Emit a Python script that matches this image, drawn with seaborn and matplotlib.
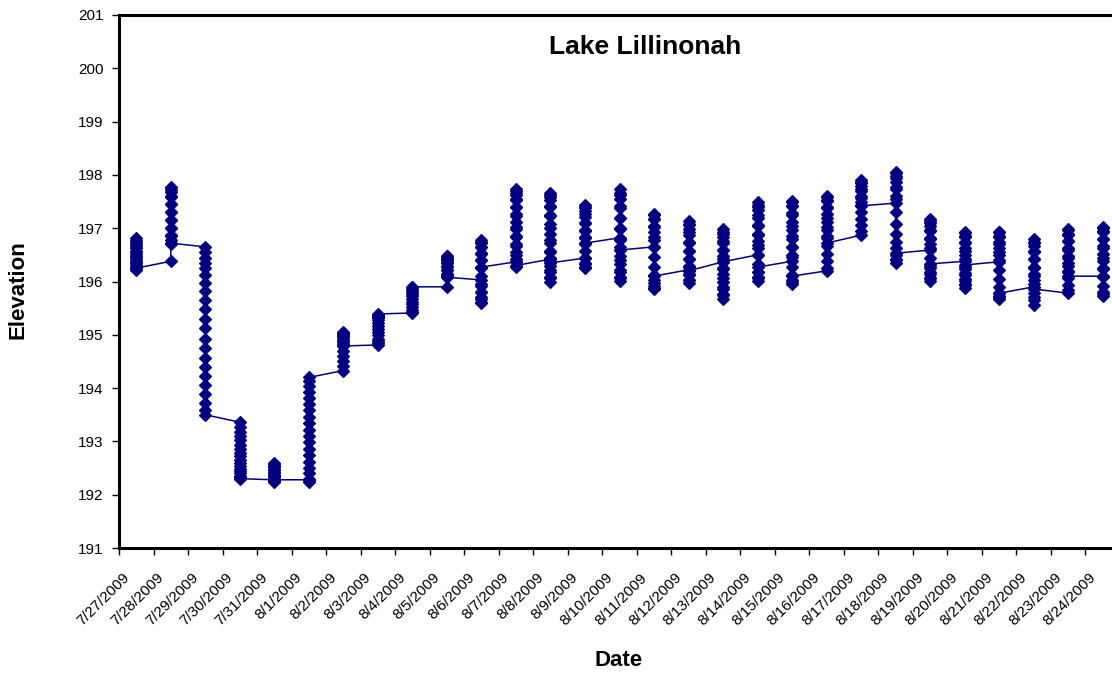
import matplotlib
matplotlib.use("Agg")
import matplotlib.pyplot as plt
import matplotlib.transforms as mtransforms
import seaborn as sns
import numpy as np
import pandas as pd

sns.set_style("ticks")
plt.rcParams['font.family'] = ['Liberation Sans', 'DejaVu Sans']
plt.rcParams['text.color'] = 'black'
plt.rcParams['xtick.color'] = 'black'
plt.rcParams['ytick.color'] = 'black'
plt.rcParams['axes.labelcolor'] = 'black'

dates = ['7/27/2009', '7/28/2009', '7/29/2009', '7/30/2009', '7/31/2009', '8/1/2009',
         '8/2/2009', '8/3/2009', '8/4/2009', '8/5/2009', '8/6/2009', '8/7/2009',
         '8/8/2009', '8/9/2009', '8/10/2009', '8/11/2009', '8/12/2009', '8/13/2009',
         '8/14/2009', '8/15/2009', '8/16/2009', '8/17/2009', '8/18/2009', '8/19/2009',
         '8/20/2009', '8/21/2009', '8/22/2009', '8/23/2009', '8/24/2009']

# readings per day, in time order
d0727 = [196.81, 196.78, 196.74, 196.7, 196.66, 196.62, 196.58, 196.55, 196.51, 196.47,
         196.44, 196.41, 196.37, 196.34, 196.31, 196.28, 196.25, 196.22, 196.25]
d0728 = [196.38, 196.7, 196.85, 197.0, 197.15, 197.3, 197.45, 197.58, 197.68, 197.75,
         197.78, 197.72, 197.6, 197.45, 197.3, 197.15, 197.0, 196.88, 196.78, 196.72]
d0729 = [196.65, 196.55, 196.45, 196.35, 196.25, 196.12, 195.98, 195.83, 195.66, 195.48,
         195.3, 195.12, 194.93, 194.75, 194.57, 194.4, 194.22, 194.05, 193.88, 193.72,
         193.58, 193.5]
d0730 = [193.36, 193.27, 193.18, 193.1, 193.02, 192.94, 192.86, 192.79, 192.72, 192.66,
         192.6, 192.54, 192.49, 192.44, 192.4, 192.36, 192.33, 192.31, 192.3]
d0731 = [192.28, 192.25, 192.23, 192.26, 192.31, 192.37, 192.43, 192.49, 192.54, 192.58,
         192.6, 192.57, 192.52, 192.46, 192.4, 192.35, 192.31, 192.28]
d0801 = [192.28, 192.23, 192.3, 192.4, 192.5, 192.62, 192.74, 192.86, 192.98, 193.1,
         193.22, 193.34, 193.46, 193.58, 193.7, 193.82, 193.93, 194.04, 194.13, 194.2]
d0802 = [194.33, 194.42, 194.5, 194.6, 194.7, 194.8, 194.88, 194.95, 195.0, 195.04,
         195.05, 195.02, 194.97, 194.92, 194.87, 194.83, 194.79]
d0803 = [194.81, 194.84, 194.88, 194.93, 194.99, 195.05, 195.11, 195.17, 195.22, 195.27,
         195.31, 195.34, 195.36, 195.37, 195.38, 195.39]
d0804 = [195.41, 195.43, 195.47, 195.52, 195.57, 195.62, 195.67, 195.72, 195.76, 195.8,
         195.84, 195.87, 195.89, 195.9]
d0805 = [195.9, 196.08, 196.15, 196.22, 196.3, 196.37, 196.43, 196.47, 196.48, 196.45,
         196.4, 196.34, 196.28, 196.21, 196.15, 196.1, 196.08]
d0806 = [196.03, 195.92, 195.8, 195.7, 195.62, 195.6, 195.68, 195.8, 195.95, 196.1,
         196.25, 196.4, 196.53, 196.64, 196.72, 196.77, 196.74, 196.65, 196.52, 196.4, 196.27]
d0807 = [196.37, 196.27, 196.3, 196.42, 196.56, 196.7, 196.84, 196.98, 197.12, 197.26,
         197.4, 197.52, 197.62, 197.7, 197.73, 197.66, 197.55, 197.4, 197.22, 197.03,
         196.85, 196.67, 196.5, 196.38, 196.3]
d0808 = [196.42, 196.3, 196.17, 196.06, 196.0, 196.08, 196.22, 196.38, 196.55, 196.72,
         196.9, 197.08, 197.25, 197.4, 197.53, 197.62, 197.66, 197.58, 197.42, 197.22,
         197.0, 196.78, 196.58, 196.45, 196.35]
d0809 = [196.44, 196.35, 196.28, 196.26, 196.32, 196.44, 196.57, 196.7, 196.83, 196.96,
         197.09, 197.21, 197.32, 197.4, 197.44, 197.38, 197.26, 197.1, 196.95, 196.82, 196.72]
d0810 = [196.82, 196.65, 196.48, 196.32, 196.18, 196.07, 196.01, 196.08, 196.22, 196.4,
         196.6, 196.8, 197.0, 197.2, 197.38, 197.54, 197.66, 197.73, 197.62, 197.42,
         197.2, 196.98, 196.78, 196.59]
d0811 = [196.65, 196.78, 196.92, 197.05, 197.17, 197.25, 197.27, 197.18, 197.02, 196.84,
         196.65, 196.46, 196.28, 196.12, 195.98, 195.88, 195.85, 195.92, 196.02, 196.1]
d0812 = [196.22, 196.12, 196.03, 195.97, 196.02, 196.14, 196.28, 196.43, 196.58, 196.73,
         196.87, 196.99, 197.08, 197.13, 197.06, 196.92, 196.75, 196.58, 196.42, 196.3, 196.2]
d0813 = [196.37, 196.48, 196.6, 196.72, 196.84, 196.93, 196.98, 196.9, 196.76, 196.6,
         196.42, 196.24, 196.06, 195.9, 195.77, 195.68, 195.74, 195.86, 196.0, 196.14,
         196.26, 196.37]
d0814 = [196.5, 196.62, 196.76, 196.9, 197.05, 197.2, 197.34, 197.44, 197.49, 197.4,
         197.24, 197.06, 196.87, 196.68, 196.5, 196.33, 196.18, 196.07, 196.01, 196.08,
         196.18, 196.27]
d0815 = [196.38, 196.5, 196.65, 196.8, 196.96, 197.12, 197.28, 197.41, 197.49, 197.51,
         197.42, 197.25, 197.05, 196.85, 196.65, 196.46, 196.28, 196.12, 196.0, 195.96,
         196.02, 196.1]
d0816 = [196.2, 196.26, 196.38, 196.52, 196.67, 196.82, 196.97, 197.12, 197.27, 197.4,
         197.51, 197.58, 197.6, 197.52, 197.38, 197.2, 197.02, 196.86, 196.72]
d0817 = [196.87, 196.95, 197.06, 197.18, 197.31, 197.44, 197.57, 197.69, 197.79, 197.86,
         197.9, 197.84, 197.73, 197.6, 197.5, 197.42]
d0818 = [197.47, 197.6, 197.74, 197.87, 197.97, 198.04, 198.05, 197.95, 197.78, 197.55,
         197.3, 197.08, 196.9, 196.75, 196.62, 196.5, 196.4, 196.35, 196.42, 196.53]
d0819 = [196.59, 196.7, 196.82, 196.94, 197.05, 197.14, 197.18, 197.1, 196.96, 196.8,
         196.62, 196.45, 196.3, 196.17, 196.07, 196.01, 196.06, 196.15, 196.25, 196.33]
d0820 = [196.38, 196.5, 196.62, 196.74, 196.84, 196.91, 196.93, 196.85, 196.72, 196.57,
         196.42, 196.27, 196.13, 196.01, 195.93, 195.88, 195.95, 196.05, 196.16, 196.24, 196.31]
d0821 = [196.37, 196.5, 196.63, 196.75, 196.85, 196.92, 196.93, 196.84, 196.7, 196.55,
         196.4, 196.22, 196.05, 195.9, 195.78, 195.7, 195.67, 195.72, 195.78]
d0822 = [195.9, 196.02, 196.15, 196.28, 196.42, 196.55, 196.66, 196.75, 196.8, 196.72,
         196.58, 196.42, 196.26, 196.1, 195.95, 195.7, 195.55, 195.66, 195.78, 195.86]
d0823 = [195.78, 195.84, 195.94, 196.06, 196.2, 196.34, 196.48, 196.62, 196.76, 196.88,
         196.96, 196.99, 196.9, 196.76, 196.6, 196.44, 196.3, 196.18, 196.1]
d0824 = [196.1, 196.24, 196.38, 196.52, 196.66, 196.8, 196.92, 197.0, 197.02, 196.94,
         196.8, 196.62, 196.44, 196.26, 196.08, 195.92, 195.8, 195.72, 195.76]

days = [d0727, d0728, d0729, d0730, d0731, d0801, d0802, d0803, d0804, d0805,
        d0806, d0807, d0808, d0809, d0810, d0811, d0812, d0813, d0814, d0815,
        d0816, d0817, d0818, d0819, d0820, d0821, d0822, d0823, d0824]

rows = []
for i, vals in enumerate(days):
    for v in vals:
        rows.append({'day': i, 'elev': v})
df = pd.DataFrame(rows)

navy = '#000080'
fig = plt.figure(figsize=(11.12, 6.73), dpi=100)
ax = fig.add_axes([119 / 1112, 1 - 548 / 673, 1001 / 1112, 533 / 673])

sns.lineplot(data=df, x='day', y='elev', sort=False, estimator=None, ax=ax,
             color=navy, linewidth=1.1, marker='D', markersize=6.2,
             markeredgecolor=navy, markeredgewidth=0.9)

ax.set_xlim(-0.5, len(dates) - 0.5)
ax.set_ylim(191, 201)
ax.set_yticks(np.arange(191, 202, 1))
ax.set_xticks(np.arange(-0.5, len(dates) + 0.5, 1))
ax.set_xticklabels([])
ax.set_xticks(np.arange(len(dates)), minor=True)
ax.set_xticklabels(dates, minor=True, rotation=45, ha='right', va='center',
                   rotation_mode='anchor', fontsize=11)
ax.tick_params(axis='x', which='minor', length=0, pad=14)
ax.tick_params(axis='x', which='major', length=5, width=1, direction='out', color='black')
ax.tick_params(axis='y', length=5, width=1, direction='out', labelsize=11, color='black', pad=6)
shift = mtransforms.ScaledTranslation(-9 / 100, -8 / 100, fig.dpi_scale_trans)
for lab in ax.get_xticklabels(minor=True):
    lab.set_transform(lab.get_transform() + shift)
ax.set_xlabel('')
ax.set_ylabel('')
ax.grid(False)
for s in ax.spines.values():
    s.set_linewidth(2.2)
    s.set_color('black')

fig.text(645 / 1112, 1 - 47 / 673, 'Lake Lillinonah', ha='center', va='center',
         fontsize=19, fontweight='bold')
fig.text(619 / 1112, 1 - 660 / 673, 'Date', ha='center', va='center',
         fontsize=16, fontweight='bold')
fig.text(18 / 1112, 1 - 290 / 673, 'Elevation', ha='center', va='center',
         rotation=90, fontsize=16, fontweight='bold')

fig.savefig('out.png', dpi=100)
